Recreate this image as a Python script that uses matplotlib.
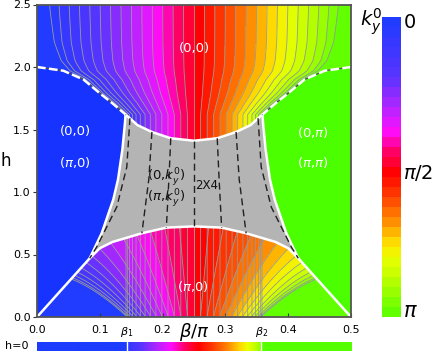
import numpy as np
import matplotlib
matplotlib.use('Agg')
import matplotlib.pyplot as plt
from matplotlib.colors import LinearSegmentedColormap
from matplotlib.patches import Polygon

# --- values ---
beta_1, beta_2 = 0.143, 0.357
xticks = [0.0, 0.1, beta_1, 0.2, 0.3, beta_2, 0.4, 0.5]
xtick_labels = ['0.0', '0.1', r'$\beta_1$', '0.2', '0.3', r'$\beta_2$', '0.4', '0.5']
yticks = [0.0, 0.5, 1.0, 1.5, 2.0, 2.5]

# phase boundaries, left half (beta/pi, h); the right half is the mirror beta -> 0.5 - beta
dash_b = [0.0, 0.042, 0.074, 0.100, 0.120, 0.141]
dash_h = [2.00, 1.97, 1.90, 1.79, 1.71, 1.62]
side_b = [0.0, 0.084, 0.103, 0.1215, 0.129, 0.136, 0.140, 0.141]
side_h = [0.0, 0.47, 0.67, 0.94, 1.10, 1.34, 1.55, 1.62]
top_b = [0.141, 0.160, 0.183, 0.213, 0.250]
top_h = [1.62, 1.535, 1.48, 1.43, 1.41]
bot_b = [0.084, 0.100, 0.120, 0.167, 0.206, 0.250]
bot_h = [0.47, 0.55, 0.60, 0.67, 0.715, 0.725]

# dashed lines inside the 2X4 phase (left half + centre line)
inner_lines = [
    ([0.148, 0.143, 0.127, 0.095, 0.084], [1.59, 1.20, 0.88, 0.56, 0.47]),
    ([0.183, 0.178, 0.167], [1.48, 1.10, 0.67]),
    ([0.213, 0.210, 0.206], [1.43, 1.10, 0.715]),
    ([0.250, 0.250], [1.41, 0.725]),
]

# where k_y^0 = 0 sits in the upper phase, and edge scale of the lower phase
kz_h = [1.62, 1.71, 1.79, 1.90, 1.97, 2.05, 2.20, 2.50]
kz_b = [0.141, 0.121, 0.101, 0.076, 0.050, 0.035, 0.022, 0.011]
lo_h = [0.0, 0.30, 0.75]
lo_c = [0.623, 0.943, 1.43]

# colour scale of k_y^0 (0 -> pi)
cmap_pos = [0.0, 0.20, 0.30, 0.38, 0.45, 0.52, 0.60, 0.68, 0.75, 0.80, 0.88, 1.0]
cmap_col = ['#1c3cff', '#5a33ff', '#b026ff', '#ff0dff', '#ff0066', '#ff0000',
            '#ff4000', '#ff8c00', '#ffd800', '#eeff00', '#b8ff00', '#55ff00']

labels_white = [('(0,0)', 0.250, 2.15), ('(0,0)', 0.0605, 1.48), (r'($\pi$,0)', 0.0605, 1.24),
                (r'(0,$\pi$)', 0.4395, 1.48), (r'($\pi$,$\pi$)', 0.4395, 1.24),
                (r'($\pi$,0)', 0.248, 0.24)]
labels_black = [(r'(0,$k_y^0$)', 0.2055, 1.12), (r'($\pi$,$k_y^0$)', 0.2055, 0.95)]

left_blue = '#1633ff'
right_green = '#4cff00'
gray_fill = '#b4b4b4'

plt.rcParams['font.family'] = ['DejaVu Sans']
cmap = LinearSegmentedColormap.from_list('ky', list(zip(cmap_pos, cmap_col)))
levels = np.linspace(0, np.pi, 31)

def flip(b):
    return [0.5 - v for v in b]

# field of k_y^0
B, H = np.meshgrid(np.linspace(0, 0.5, 700), np.linspace(0, 2.5, 700))
c_top = np.cos(2 * np.pi * np.interp(H, kz_h, kz_b))
k_top = np.arccos(np.clip(np.cos(2 * np.pi * B) / c_top, -1, 1))
c_low = np.interp(H, lo_h, lo_c)
k_low = np.arccos(np.clip(np.cos(2 * np.pi * B) / c_low, -1, 1))

fig = plt.figure(figsize=(4.36, 3.54), dpi=100)
ax = fig.add_axes([37 / 436, 1 - 317 / 354, 314 / 436, 312.5 / 354])

cf = ax.contourf(B, H, k_top, levels=levels, cmap=cmap)
ax.contour(B, H, k_top, levels=levels[1:-1], colors='#999999', linewidths=0.6)

# arcs across the whole width (left -> right)
up_b = top_b + flip(top_b[:-1])[::-1]
up_h = top_h + top_h[:-1][::-1]
lo_b = bot_b + flip(bot_b[:-1])[::-1]
lo_hh = bot_h + bot_h[:-1][::-1]

# lower (pi,0) phase
low_poly = list(zip([0.0] + lo_b + [0.5], [0.0] + lo_hh + [0.0]))
low_patch = Polygon(low_poly, closed=True, facecolor='none', edgecolor='none')
ax.add_patch(low_patch)
cf2 = ax.contourf(B, H, k_low, levels=levels, cmap=cmap)
cf2.set_clip_path(low_patch)
cl2 = ax.contour(B, H, k_low, levels=levels[1:-1], colors='#999999', linewidths=0.6)
cl2.set_clip_path(low_patch)

# left / right uniform phases
left_poly = list(zip(dash_b + side_b[::-1], dash_h + side_h[::-1]))
ax.add_patch(Polygon(left_poly, closed=True, facecolor=left_blue, edgecolor='none', zorder=3))
right_poly = list(zip(flip(dash_b) + flip(side_b)[::-1], dash_h + side_h[::-1]))
ax.add_patch(Polygon(right_poly, closed=True, facecolor=right_green, edgecolor='none', zorder=3))

# gray 2X4 phase: top arc L->R, right side down, bottom arc R->L, left side up
gray_b = up_b + flip(side_b[1:])[::-1] + lo_b[::-1] + side_b[1:]
gray_h = up_h + side_h[1:][::-1] + lo_hh[::-1] + side_h[1:]
ax.add_patch(Polygon(list(zip(gray_b, gray_h)), closed=True, facecolor=gray_fill,
                     edgecolor='none', zorder=3))

# solid white boundaries
for bb, hh in [(side_b, side_h), (flip(side_b), side_h), (up_b, up_h), (lo_b, lo_hh)]:
    ax.plot(bb, hh, color='white', lw=1.8, zorder=5, solid_capstyle='round')

# dashed boundaries to the upper phase
for bb in (dash_b, flip(dash_b)):
    ax.plot(bb, dash_h, color='#505050', lw=0.9, zorder=5)
    ax.plot(bb, dash_h, color='white', lw=1.8, zorder=6, linestyle=(0, (3.5, 1.3)))

# dashed lines inside the 2X4 phase
for bb, hh in inner_lines:
    ax.plot(bb, hh, color='#202020', lw=1.0, zorder=6, linestyle=(0, (5, 3)))
    if bb[0] != 0.25:
        ax.plot(flip(bb), hh, color='#202020', lw=1.0, zorder=6, linestyle=(0, (5, 3)))

for txt, x, y in labels_white:
    ax.text(x, y, txt, color='white', fontsize=9.5, ha='center', va='center', zorder=8)
for txt, x, y in labels_black:
    ax.text(x, y, txt, color='#111111', fontsize=9.5, ha='center', va='center', zorder=8)
ax.text(0.252, 1.05, '2X4', color='#111111', fontsize=8.5, ha='left', va='center', zorder=8)

ax.set_xlim(0, 0.5)
ax.set_ylim(0, 2.5)
ax.set_xticks(xticks)
ax.set_xticklabels(xtick_labels)
ax.set_yticks(yticks)
ax.set_yticklabels([f'{v:.1f}' for v in yticks])
ax.tick_params(axis='x', direction='in', length=3, pad=6, labelsize=8, color='#333333')
ax.tick_params(axis='y', direction='out', length=3, pad=1.5, labelsize=8, color='#333333')
for sp in ax.spines.values():
    sp.set_color('#555555')
    sp.set_linewidth(1.3)
    sp.set_zorder(10)
ax.text(0.25, -0.047, r'$\beta/\pi$', transform=ax.get_xaxis_transform(),
        ha='center', va='center', fontsize=13)
fig.text(6 / 436, 1 - 161 / 354, 'h', fontsize=12, ha='center', va='center')

# h = 0 strip
bax = fig.add_axes([37 / 436, 1 - 351 / 354, 314 / 436, 9 / 354])
bgrid = np.linspace(0, 0.5, 800)
k0 = np.arccos(np.clip(np.cos(2 * np.pi * bgrid) / np.cos(2 * np.pi * beta_1), -1, 1))
bax.imshow(k0[None, :], aspect='auto', cmap=cmap, vmin=0, vmax=np.pi, extent=[0, 0.5, 0, 1])
for b in (beta_1, beta_2):
    bax.axvline(b, color='white', lw=1.0)
bax.set_axis_off()
fig.text(17 / 436, 1 - 346 / 354, 'h=0', fontsize=8, ha='center', va='center')

# colour bar
cax = fig.add_axes([382 / 436, 1 - 317 / 354, 19 / 436, 300 / 354])
cb = fig.colorbar(cf, cax=cax)
cax.invert_yaxis()
cb.outline.set_visible(False)
cax.set_yticks([])
cax.text(1.15, 0.98, '0', transform=cax.transAxes, fontsize=14, ha='left', va='center')
cax.text(1.1, 0.48, r'$\pi$/2', transform=cax.transAxes, fontsize=14, ha='left', va='center')
cax.text(1.1, 0.02, r'$\pi$', transform=cax.transAxes, fontsize=15, ha='left', va='center')
fig.text(371 / 436, 1 - 22 / 354, r'$k_y^0$', fontsize=14, ha='center', va='center')

fig.savefig('out.png', dpi=100)
